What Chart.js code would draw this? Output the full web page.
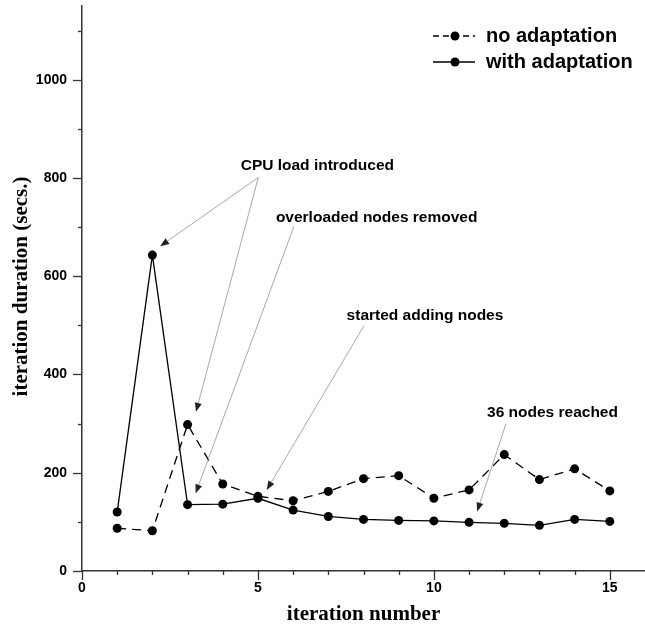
<!DOCTYPE html>
<html>
<head>
<meta charset="utf-8">
<script src="https://cdn.jsdelivr.net/npm/chart.js@4.4.1/dist/chart.umd.min.js"></script>
<style>
  body { margin: 0; background: #fff; }
  #wrap { width: 645px; height: 624px; position: relative; }
</style>
</head>
<body>
<div id="wrap"><canvas id="chart"></canvas></div>
<script>
// --- data ---
const iterations = [1, 2, 3, 4, 5, 6, 7, 8, 9, 10, 11, 12, 13, 14, 15];
const noAdaptation = [87, 82, 298, 177, 152, 143, 162, 188, 194, 148, 165, 237, 186, 208, 163];
const withAdaptation = [120, 643, 135, 136, 148, 124, 111, 105, 103, 102, 99, 97, 93, 105, 101];

const xTickLabels = [0, 5, 10, 15];
const yTickLabels = [0, 200, 400, 600, 800, 1000];

// annotation text + arrows, in data coordinates
const notes = [
    { text: "CPU load introduced", at: [4.51, 824], from: [5.01, 801], to: [[2.22, 661], [3.24, 324]] },
    { text: "overloaded nodes removed", at: [5.51, 719], from: [6.02, 701], to: [[3.23, 158]] },
    { text: "started adding nodes", at: [7.52, 520], from: [8.02, 500], to: [[5.25, 165]] },
    { text: "36 nodes reached", at: [11.51, 322], from: [12.05, 300], to: [[11.23, 121]] }
];

const axisColor = "#333";

function toPoints(values) {
    return values.map((v, i) => ({ x: iterations[i], y: v }));
}

// chart area must run right up to the canvas edge like the original
function noPad(s) {
    s.paddingTop = 0;
    s.paddingBottom = 0;
    s.paddingLeft = 0;
    s.paddingRight = 0;
}

function drawArrow(ctx, x1, y1, x2, y2) {
    const ang = Math.atan2(y2 - y1, x2 - x1);
    const headLen = 9, headW = 3.5;
    const bx = x2 - headLen * Math.cos(ang), by = y2 - headLen * Math.sin(ang);
    ctx.strokeStyle = "#a8a8a8";
    ctx.lineWidth = 1;
    ctx.beginPath();
    ctx.moveTo(x1, y1);
    ctx.lineTo(bx, by);
    ctx.stroke();
    ctx.fillStyle = "#222";
    ctx.beginPath();
    ctx.moveTo(x2, y2);
    ctx.lineTo(bx + headW * Math.sin(ang), by - headW * Math.cos(ang));
    ctx.lineTo(bx - headW * Math.sin(ang), by + headW * Math.cos(ang));
    ctx.closePath();
    ctx.fill();
}

const decorations = {
    id: "decorations",
    afterDraw(chart) {
        const { ctx, chartArea, scales: { x, y } } = chart;
        ctx.save();

        // tick marks (major longer, outward)
        ctx.strokeStyle = axisColor;
        ctx.lineWidth = 1.3;
        x.ticks.forEach(t => {
            if (t.value >= x.max) return;
            const len = t.value % 5 === 0 ? 9 : 4;
            const px = Math.round(x.getPixelForValue(t.value)) + 0.5;
            ctx.beginPath();
            ctx.moveTo(px, chartArea.bottom);
            ctx.lineTo(px, chartArea.bottom + len);
            ctx.stroke();
        });
        y.ticks.forEach(t => {
            if (t.value >= y.max) return;
            const len = t.value % 200 === 0 ? 9 : 4;
            const py = Math.round(y.getPixelForValue(t.value)) + 0.5;
            ctx.beginPath();
            ctx.moveTo(chartArea.left - len, py);
            ctx.lineTo(chartArea.left, py);
            ctx.stroke();
        });

        // axis titles
        ctx.fillStyle = "#000";
        ctx.font = "bold 21px 'Liberation Serif', 'Times New Roman', serif";
        ctx.textAlign = "center";
        ctx.textBaseline = "alphabetic";
        ctx.fillText("iteration number", (chartArea.left + chartArea.right) / 2, 620);
        ctx.save();
        ctx.translate(27, (chartArea.top + chartArea.bottom) / 2 - 2);
        ctx.rotate(-Math.PI / 2);
        ctx.fillText("iteration duration (secs.)", 0, 0);
        ctx.restore();

        // annotations
        ctx.font = "bold 15.5px 'Liberation Sans', Arial, sans-serif";
        ctx.textAlign = "left";
        ctx.textBaseline = "middle";
        notes.forEach(n => {
            ctx.fillStyle = "#000";
            ctx.fillText(n.text, x.getPixelForValue(n.at[0]), y.getPixelForValue(n.at[1]));
            const sx = x.getPixelForValue(n.from[0]), sy = y.getPixelForValue(n.from[1]);
            n.to.forEach(p => drawArrow(ctx, sx, sy, x.getPixelForValue(p[0]), y.getPixelForValue(p[1])));
        });

        // legend
        const rows = [{ ds: chart.data.datasets[0], y: 36 }, { ds: chart.data.datasets[1], y: 62 }];
        const lx0 = 433, lx1 = 475, mx = 455;
        rows.forEach(r => {
            ctx.strokeStyle = "#000";
            ctx.lineWidth = 1.3;
            ctx.setLineDash(r.ds.borderDash ? [6, 4] : []);
            ctx.beginPath();
            ctx.moveTo(lx0, r.y);
            ctx.lineTo(lx1, r.y);
            ctx.stroke();
            ctx.setLineDash([]);
            ctx.fillStyle = "#000";
            ctx.beginPath();
            ctx.arc(mx, r.y, 4.5, 0, Math.PI * 2);
            ctx.fill();
            ctx.font = "bold 20px 'Liberation Sans', Arial, sans-serif";
            ctx.textBaseline = "middle";
            ctx.fillText(r.ds.label, 486, r.y);
        });
        ctx.restore();
    }
};

new Chart(document.getElementById("chart"), {
    type: "line",
    data: {
        datasets: [
            {
                label: "no adaptation",
                data: toPoints(noAdaptation),
                borderColor: "#000",
                borderWidth: 1.3,
                borderDash: [9, 6],
                pointRadius: 4.5,
                pointBackgroundColor: "#000",
                pointBorderWidth: 0,
                tension: 0
            },
            {
                label: "with adaptation",
                data: toPoints(withAdaptation),
                borderColor: "#000",
                borderWidth: 1.3,
                pointRadius: 4.5,
                pointBackgroundColor: "#000",
                pointBorderWidth: 0,
                tension: 0
            }
        ]
    },
    options: {
        responsive: true,
        maintainAspectRatio: false,
        animation: false,
        layout: { autoPadding: false, padding: { top: 6, right: 0, left: 0, bottom: 0 } },
        plugins: { legend: { display: false }, tooltip: { enabled: false } },
        scales: {
            x: {
                type: "linear",
                min: 0,
                max: 16,
                grid: { display: false, drawTicks: false },
                border: { display: true, color: axisColor, width: 1.5 },
                ticks: {
                    stepSize: 1,
                    includeBounds: false,
                    autoSkip: false,
                    maxRotation: 0,
                    padding: 9,
                    color: "#000",
                    font: { family: "'Liberation Sans', Arial, sans-serif", size: 14, weight: "bold" },
                    callback: v => xTickLabels.includes(v) ? String(v) : ""
                },
                afterFit: s => { s.height = 53; noPad(s); }
            },
            y: {
                type: "linear",
                min: 0,
                max: 1150,
                grid: { display: false, drawTicks: false },
                border: { display: true, color: axisColor, width: 1.5 },
                ticks: {
                    stepSize: 100,
                    includeBounds: false,
                    autoSkip: false,
                    padding: 15,
                    color: "#000",
                    font: { family: "'Liberation Sans', Arial, sans-serif", size: 14, weight: "bold" },
                    callback: v => yTickLabels.includes(v) ? String(v) : ""
                },
                afterFit: s => { s.width = 82; noPad(s); }
            }
        }
    },
    plugins: [decorations]
});
</script>
</body>
</html>
